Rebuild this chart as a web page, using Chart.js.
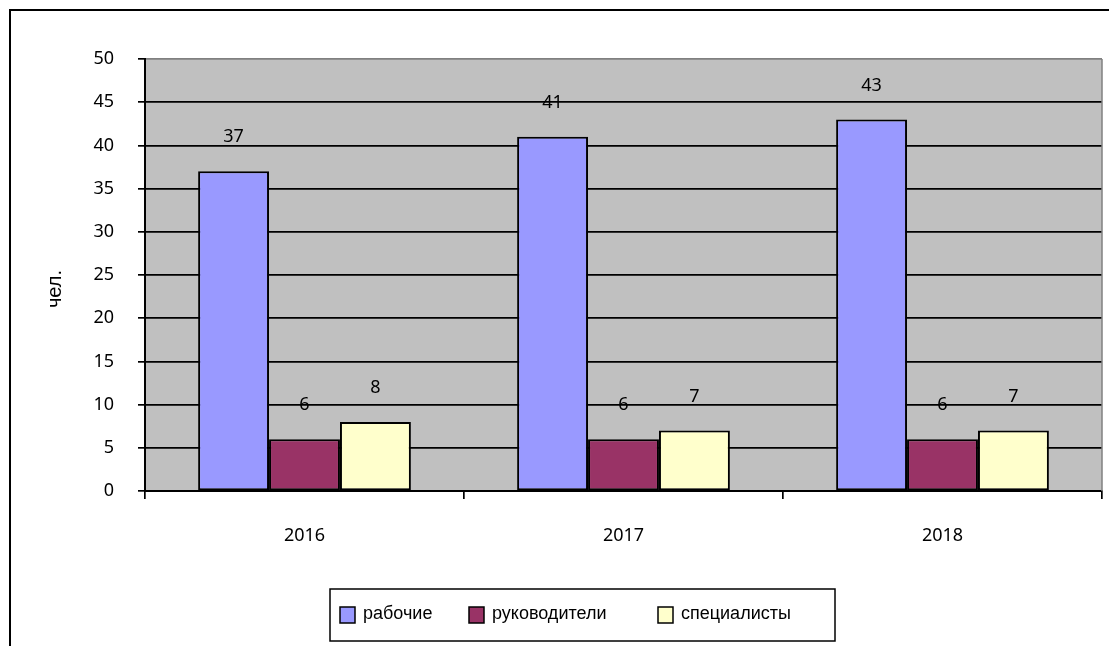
<!DOCTYPE html>
<html>
<head>
<meta charset="utf-8">
<script src="https://cdn.jsdelivr.net/npm/chart.js@4/dist/chart.umd.min.js"></script>
<style>
	html, body { margin: 0; padding: 0; background: #fff; overflow: hidden; }
	#contenedor { position: relative; width: 1109px; height: 646px; }
</style>
</head>
<body>
<div id="contenedor"><canvas id="grafica"></canvas></div>
<script>
/*******************************************************************************
 * Datos
 *******************************************************************************/
var anios = ['2016', '2017', '2018'];
var nombres_series = ['рабочие', 'руководители', 'специалисты'];
var rabochie = [37, 41, 43];
var rukovoditeli = [6, 6, 6];
var specialisty = [8, 7, 7];
var eje_y_min = 0;
var eje_y_max = 50;
var eje_y_paso = 5;
var titulo_eje_y = 'чел.';

var colores = ['#9999ff', '#993366', '#ffffcc'];
var fuente_num = '"Noto Sans", "DejaVu Sans", sans-serif';
var fuente_txt = '"Liberation Sans", Arial, sans-serif';

/*******************************************************************************
 * Plugins
 *******************************************************************************/
var fondoPlugin = {
	id: 'fondo',
	beforeDraw: function (chart) {
		var ctx = chart.ctx;
		var a = chart.chartArea;
		ctx.save();
		ctx.fillStyle = '#ffffff';
		ctx.fillRect(0, 0, chart.width, chart.height);
		ctx.fillStyle = '#c0c0c0';
		ctx.fillRect(a.left, a.top, a.right - a.left, a.bottom - a.top);
		ctx.restore();
	},
	beforeDatasetsDraw: function (chart) {
		var ctx = chart.ctx;
		var a = chart.chartArea;
		ctx.save();
		ctx.strokeStyle = '#808080';
		ctx.lineWidth = 1.5;
		ctx.beginPath();
		ctx.moveTo(a.right, a.top);
		ctx.lineTo(a.right, a.bottom);
		ctx.stroke();
		ctx.restore();
	}
};

// numeros encima de las barras
var etiquetasPlugin = {
	id: 'etiquetas',
	afterDatasetsDraw: function (chart) {
		var ctx = chart.ctx;
		ctx.save();
		ctx.font = '18px ' + fuente_num;
		ctx.fillStyle = '#000';
		ctx.textAlign = 'center';
		ctx.textBaseline = 'middle';
		chart.data.datasets.forEach(function (ds, i) {
			var meta = chart.getDatasetMeta(i);
			meta.data.forEach(function (barra, j) {
				ctx.fillText(String(ds.data[j]), barra.x, barra.y - 34);
			});
		});
		ctx.restore();
	}
};

// marco exterior, titulo del eje y leyenda con recuadro
var marcoPlugin = {
	id: 'marco',
	afterDraw: function (chart) {
		var ctx = chart.ctx;
		ctx.save();
		ctx.strokeStyle = '#000';
		ctx.lineWidth = 2;
		ctx.strokeRect(10, 10, 1300, 1000);

		// titulo del eje y
		ctx.save();
		ctx.translate(55, 289);
		ctx.rotate(-Math.PI / 2);
		ctx.font = '20px ' + fuente_txt;
		ctx.fillStyle = '#000';
		ctx.textAlign = 'center';
		ctx.textBaseline = 'middle';
		ctx.fillText(titulo_eje_y, 0, 0);
		ctx.restore();

		var caja_x = 330, caja_y = 589, caja_w = 505, caja_h = 52;
		ctx.lineWidth = 1.5;
		ctx.strokeRect(caja_x, caja_y, caja_w, caja_h);

		var desplazamientos = [10, 139, 328];
		ctx.font = '18px ' + fuente_txt;
		ctx.textBaseline = 'middle';
		ctx.textAlign = 'left';
		chart.data.datasets.forEach(function (ds, i) {
			var x = caja_x + desplazamientos[i];
			ctx.fillStyle = ds.backgroundColor;
			ctx.fillRect(x, 607, 15, 16);
			ctx.lineWidth = 1.5;
			ctx.strokeStyle = '#000';
			ctx.strokeRect(x, 607, 15, 16);
			ctx.fillStyle = '#000';
			ctx.fillText(ds.label, x + 23, 614);
		});
		ctx.restore();
	}
};

/*******************************************************************************
 * Grafica
 *******************************************************************************/
var series = [rabochie, rukovoditeli, specialisty];
var datasets = series.map(function (valores, i) {
	return {
		label: nombres_series[i],
		data: valores,
		backgroundColor: colores[i],
		borderColor: '#000',
		borderWidth: 2,
		borderSkipped: false,
		categoryPercentage: 0.667,
		barPercentage: 1.0
	};
});

var contexto_canvas = document.getElementById('grafica').getContext('2d');
var grafica = new Chart(contexto_canvas, {
	type: 'bar',
	data: {
		labels: anios,
		datasets: datasets
	},
	options: {
		responsive: true,
		maintainAspectRatio: false,
		animation: false,
		layout: {
			padding: { left: 0, top: 59, right: 7, bottom: 0 }
		},
		plugins: {
			legend: { display: false },
			tooltip: { enabled: false }
		},
		scales: {
			x: {
				offset: true,
				afterFit: function (scale) { scale.height = 155; },
				grid: {
					offset: true,
					drawOnChartArea: false,
					drawTicks: true,
					tickLength: 8,
					color: '#000',
					lineWidth: 1.7
				},
				border: { display: true, color: '#000', width: 2 },
				ticks: {
					color: '#000',
					padding: 26,
					font: { family: fuente_num, size: 18 }
				}
			},
			y: {
				min: eje_y_min,
				max: eje_y_max,
				afterFit: function (scale) { scale.width = 145; },
				grid: {
					color: function (c) {
						return (c.tick && c.tick.value === eje_y_max) ? '#808080' : '#000';
					},
					tickColor: '#000',
					lineWidth: 1.7,
					tickLength: 7
				},
				border: { display: true, color: '#000', width: 2 },
				ticks: {
					stepSize: eje_y_paso,
					color: '#000',
					padding: 24,
					font: { family: fuente_num, size: 18 }
				}
			}
		}
	},
	plugins: [fondoPlugin, etiquetasPlugin, marcoPlugin]
});
</script>
</body>
</html>
